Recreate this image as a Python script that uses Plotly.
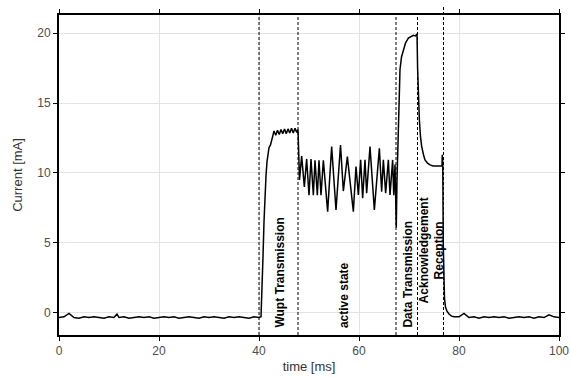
import plotly.graph_objects as go

# ---- data ----
base_t1 = [0, 1, 2, 3, 4, 5, 6, 7, 8, 9, 10, 11, 11.6, 12, 13, 14, 15, 16, 17, 18, 19, 20,
           21, 22, 23, 24, 25, 26, 27, 28, 29, 30, 31, 32, 33, 34, 35, 36, 37, 38, 39, 40, 40.4]
base_i1 = [-0.35, -0.3, -0.05, -0.35, -0.4, -0.3, -0.35, -0.3, -0.35, -0.4, -0.3, -0.35, -0.1, -0.35,
           -0.3, -0.4, -0.35, -0.3, -0.35, -0.3, -0.4, -0.35, -0.3, -0.35, -0.3, -0.4, -0.35, -0.3,
           -0.35, -0.4, -0.3, -0.35, -0.3, -0.35, -0.4, -0.3, -0.35, -0.3, -0.35, -0.4, -0.3, -0.35, -0.3]

wupt_t = [40.6, 40.8, 41.0, 41.2, 41.4, 41.6, 41.8, 42.0, 42.3, 42.5, 42.8, 43.0, 43.35, 43.7,
          44.05, 44.4, 44.75, 45.1, 45.45, 45.8, 46.15, 46.5, 46.85, 47.2, 47.55, 47.8]
wupt_i = [1.5, 4.0, 6.5, 8.5, 9.8, 10.8, 11.5, 11.8, 12.0, 12.4, 12.7, 13.0, 12.7, 13.05,
          12.75, 13.1, 12.8, 13.15, 12.8, 13.15, 12.85, 13.2, 12.85, 13.2, 12.9, 13.1]

active_t = [47.9, 48.1, 48.53, 49.07, 49.53, 50.0, 50.4, 50.87, 51.2, 51.67, 52.0, 52.4, 52.87,
            53.73, 54.53, 55.4, 56.3, 56.87, 57.67, 58.87, 59.4, 59.87, 60.33, 60.73, 61.2,
            61.53, 62.2, 63.07, 64.07, 64.53, 64.87, 65.33, 65.87, 66.2, 66.73, 66.95, 67.2, 67.45]
active_i = [11.0, 9.5, 11.2, 9.0, 11.0, 8.4, 11.0, 8.4, 10.9, 8.4, 10.9, 8.4, 10.9,
            7.23, 11.88, 7.35, 12.0, 8.7, 11.17, 7.23, 10.45, 8.43, 10.93, 8.19, 10.93,
            8.55, 11.88, 7.35, 11.76, 8.66, 10.93, 8.55, 10.93, 8.43, 10.93, 8.4, 10.6, 6.1]

data_t = [67.6, 67.87, 68.2, 68.5, 68.87, 69.3, 69.87, 70.4, 70.87, 71.3, 71.6]
data_i = [9.5, 13.8, 17.4, 18.3, 18.8, 19.3, 19.65, 19.75, 19.85, 19.8, 19.95]

ack_t = [71.72, 71.85, 72.07, 72.3, 72.53, 72.9, 73.2, 73.7, 74.2, 74.8, 75.4, 76.0, 76.5, 76.6]
ack_i = [17.5, 15.5, 13.8, 12.6, 11.9, 11.3, 10.93, 10.7, 10.57, 10.5, 10.5, 10.45, 10.5, 10.5]

rec_t = [76.65, 76.75, 76.85, 76.95, 77.1, 77.3, 77.6, 78.0, 78.5, 79.0]
rec_i = [11.3, 10.8, 5.0, 2.0, 1.0, 0.4, 0.1, -0.1, -0.25, -0.3]

base_t2 = [80, 81, 82, 83, 84, 85, 86, 87, 88, 89, 90, 91, 92, 93, 94, 95, 96, 97, 98, 99, 100]
base_i2 = [-0.3, -0.05, -0.35, -0.3, -0.4, -0.3, -0.35, -0.3, -0.35, -0.3, -0.4, -0.35, -0.3,
           -0.35, -0.3, -0.4, -0.3, -0.35, -0.15, -0.3, -0.35]

phase_lines = [40.0, 47.8, 67.4, 71.7, 76.9]

labels = ["Wupt Transmission", "active state", "Data Transmission", "Acknowledgement<br>Reception"]
label_x = [44.3, 57.0, 69.8, 74.5]

x_ticks = [0, 20, 40, 60, 80, 100]
y_ticks = [0, 5, 10, 15, 20]

# ---- figure ----
t = base_t1 + wupt_t + active_t + data_t + ack_t + rec_t + base_t2
cur = base_i1 + wupt_i + active_i + data_i + ack_i + rec_i + base_i2

fig = go.Figure()
fig.add_trace(go.Scatter(x=t, y=cur, mode="lines",
                         line=dict(color="black", width=1.5), showlegend=False))

shapes = []
for k, xv in enumerate(phase_lines):
    shapes.append(dict(type="line", xref="x", yref="paper", x0=xv, x1=xv,
                       y0=0, y1=1.025 if k == 4 else 1.0,
                       line=dict(color="black", width=1, dash="3px,2px")))

lab_font = dict(family="Liberation Sans, Arial", size=12, color="black")
annotations = []
for k, (lab, xv) in enumerate(zip(labels, label_x)):
    if k < 3:
        annotations.append(dict(x=xv, y=-1.25, xref="x", yref="y", text="<b>" + lab + "</b>",
                                textangle=-90, showarrow=False, xanchor="center", yanchor="bottom",
                                font=lab_font))
    else:
        annotations.append(dict(x=xv, y=4.42, xref="x", yref="y", text="<b>" + lab + "</b>",
                                textangle=-90, showarrow=False, xanchor="center", yanchor="middle",
                                align="center", font=lab_font))

axis_common = dict(showline=True, linecolor="black", linewidth=2, mirror="ticks",
                   ticks="outside", ticklen=4, tickcolor="black", tickwidth=1,
                   showgrid=True, gridcolor="#e3e3e3", gridwidth=1, zeroline=False,
                   automargin=False, ticklabeloverflow="allow",
                   tickfont=dict(family="Liberation Sans, Arial", size=12, color="#4d4d4d"))

fig.update_layout(
    width=571, height=378,
    margin=dict(l=59, r=11.5, t=15, b=43),
    plot_bgcolor="white", paper_bgcolor="white",
    shapes=shapes, annotations=annotations,
    xaxis=dict(range=[0, 100], tickvals=x_ticks,
               title=dict(text="time [ms]", standoff=4,
                          font=dict(family="Liberation Sans, Arial", size=13, color="#333333")),
               **axis_common),
    yaxis=dict(range=[-1.6, 21.3], tickvals=y_ticks,
               title=dict(text="Current [mA]", standoff=12,
                          font=dict(family="Liberation Sans, Arial", size=13, color="#333333")),
               **axis_common),
)

fig.write_html("out.html", config={"displayModeBar": False},
               post_script="document.body.style.margin='0';document.body.style.overflow='hidden';")
